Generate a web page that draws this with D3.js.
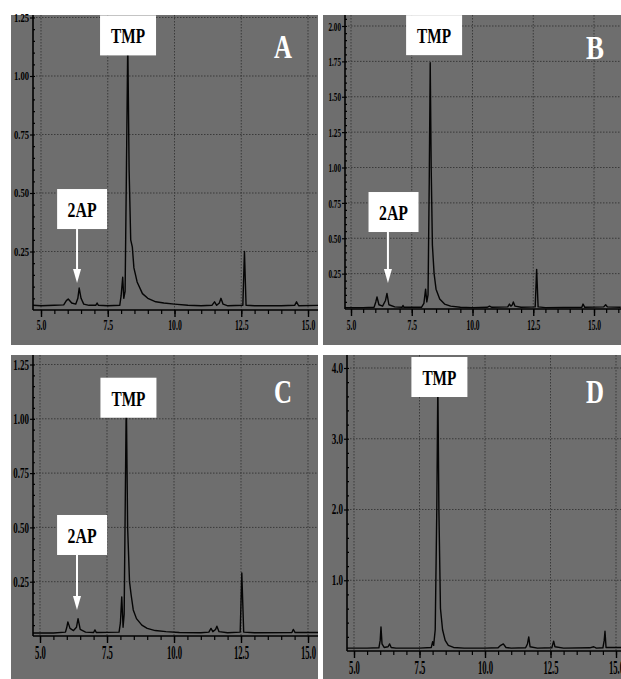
<!DOCTYPE html>
<html>
<head>
<meta charset="utf-8">
<script src="https://cdn.jsdelivr.net/npm/d3@7"></script>
<style>
html, body { margin: 0; padding: 0; background: #fff; }
svg { display: block; }
</style>
</head>
<body>
<svg id="chart" width="621" height="679"></svg>
<script>
// retention time (min) major ticks, shared by all four panels
var xMajor = [5.0, 7.5, 10.0, 12.5, 15.0];

// panel A
var timeA = [4.70, 5.00, 5.50, 5.85, 5.95, 6.02, 6.15, 6.30, 6.38, 6.43, 6.50, 6.60, 6.80, 7.05, 7.10, 7.15, 7.50, 7.95, 8.00, 8.06, 8.10, 8.15, 8.20, 8.25, 8.30, 8.36, 8.42, 8.48, 8.60, 8.80, 9.00, 9.30, 9.60, 10.00, 10.50, 11.00, 11.40, 11.50, 11.58, 11.68, 11.74, 11.82, 12.00, 12.56, 12.62, 12.68, 13.00, 14.00, 14.50, 14.57, 14.65, 15.40];
var signalA = [0.020, 0.018, 0.020, 0.022, 0.040, 0.047, 0.030, 0.025, 0.050, 0.094, 0.050, 0.025, 0.020, 0.020, 0.030, 0.020, 0.018, 0.020, 0.060, 0.140, 0.050, 0.080, 0.600, 1.150, 0.600, 0.300, 0.270, 0.180, 0.120, 0.070, 0.050, 0.035, 0.030, 0.025, 0.020, 0.018, 0.020, 0.035, 0.020, 0.030, 0.050, 0.025, 0.018, 0.020, 0.250, 0.020, 0.018, 0.018, 0.020, 0.035, 0.018, 0.020];
var yTicksA = [0.25, 0.50, 0.75, 1.00, 1.25];

// panel B
var timeB = [4.75, 5.50, 5.95, 6.02, 6.07, 6.15, 6.30, 6.42, 6.48, 6.56, 6.80, 7.10, 7.14, 7.18, 7.90, 8.00, 8.07, 8.12, 8.17, 8.22, 8.26, 8.30, 8.35, 8.42, 8.50, 8.65, 8.85, 9.10, 9.50, 10.00, 10.60, 10.70, 10.80, 11.45, 11.52, 11.58, 11.64, 11.68, 11.75, 12.00, 12.58, 12.64, 12.70, 13.00, 14.50, 14.55, 14.62, 15.40, 15.48, 15.55, 16.10];
var signalB = [0.010, 0.010, 0.012, 0.050, 0.085, 0.030, 0.020, 0.060, 0.110, 0.030, 0.015, 0.012, 0.025, 0.012, 0.012, 0.040, 0.140, 0.050, 0.100, 0.900, 1.740, 1.000, 0.450, 0.250, 0.140, 0.070, 0.035, 0.020, 0.012, 0.010, 0.012, 0.020, 0.012, 0.015, 0.035, 0.020, 0.030, 0.050, 0.020, 0.012, 0.015, 0.280, 0.015, 0.010, 0.012, 0.035, 0.012, 0.015, 0.030, 0.015, 0.012];
var yTicksB = [0.25, 0.50, 0.75, 1.00, 1.25, 1.50, 1.75, 2.00];

// panel C
var timeC = [4.74, 5.50, 5.95, 6.00, 6.04, 6.12, 6.25, 6.36, 6.42, 6.50, 6.70, 7.00, 7.05, 7.10, 7.95, 8.00, 8.05, 8.10, 8.14, 8.18, 8.22, 8.27, 8.34, 8.40, 8.48, 8.60, 8.80, 9.00, 9.30, 9.70, 10.20, 11.00, 11.30, 11.38, 11.45, 11.55, 11.60, 11.68, 12.00, 12.47, 12.53, 12.60, 13.00, 14.40, 14.45, 14.52, 15.40];
var signalC = [0.014, 0.014, 0.018, 0.040, 0.065, 0.035, 0.025, 0.040, 0.080, 0.030, 0.018, 0.016, 0.028, 0.016, 0.018, 0.060, 0.180, 0.040, 0.100, 0.600, 1.100, 0.500, 0.250, 0.190, 0.120, 0.080, 0.050, 0.035, 0.025, 0.020, 0.016, 0.015, 0.018, 0.035, 0.020, 0.030, 0.045, 0.020, 0.015, 0.018, 0.290, 0.018, 0.015, 0.016, 0.030, 0.016, 0.016];
var yTicksC = [0.25, 0.50, 0.75, 1.00, 1.25];

// panel D
var timeD = [4.73, 5.50, 5.95, 6.00, 6.03, 6.07, 6.15, 6.30, 6.36, 6.42, 6.60, 7.50, 7.95, 8.00, 8.04, 8.10, 8.16, 8.20, 8.24, 8.30, 8.38, 8.48, 8.60, 8.80, 9.20, 10.00, 10.50, 10.60, 10.70, 10.80, 11.00, 11.55, 11.62, 11.67, 11.72, 12.00, 12.55, 12.62, 12.67, 13.00, 14.00, 14.15, 14.25, 14.50, 14.55, 14.58, 14.62, 15.30];
var signalD = [0.040, 0.040, 0.045, 0.150, 0.340, 0.100, 0.050, 0.060, 0.100, 0.050, 0.040, 0.040, 0.050, 0.130, 0.080, 0.300, 2.000, 3.800, 2.000, 0.600, 0.300, 0.150, 0.080, 0.050, 0.040, 0.040, 0.045, 0.080, 0.100, 0.050, 0.040, 0.045, 0.100, 0.200, 0.060, 0.040, 0.045, 0.140, 0.060, 0.040, 0.045, 0.060, 0.040, 0.045, 0.150, 0.280, 0.050, 0.050];
var yTicksD = [1.0, 2.0, 3.0, 4.0];

var serif = "'Liberation Serif', 'Times New Roman', serif";

var panels = [
	{letter: "A", time: timeA, signal: signalA, yTicks: yTicksA, yFmt: ".2f", yMinor: 0.05,
	 frame: [11, 15, 318, 345], xRange: [41, 308], yTop: 1.25, yRange: [310, 17.5], axisX: 33,
	 xFs: 14, xSx: 0.55, yFs: 12, ySx: 0.72, letterPos: [283, 58],
	 notes: [{text: "TMP", t: 8.26, v: 1.088, w: 56},
	         {text: "2AP", t: 6.54, v: 0.346, w: 50, arrowT: 6.35, arrowV: 0.115}]},
	{letter: "B", time: timeB, signal: signalB, yTicks: yTicksB, yFmt: ".2f", yMinor: 0.05,
	 frame: [323, 15, 621, 345], xRange: [351, 594], yTop: 2.0, yRange: [309, 26], axisX: 345,
	 xFs: 15, xSx: 0.5, yFs: 13, ySx: 0.55, letterPos: [595, 59],
	 notes: [{text: "TMP", t: 8.42, v: 1.794, w: 56},
	         {text: "2AP", t: 6.75, v: 0.544, w: 50, arrowT: 6.52, arrowV: 0.184}]},
	{letter: "C", time: timeC, signal: signalC, yTicks: yTicksC, yFmt: ".2f", yMinor: 0.05,
	 frame: [11, 355, 318, 679], xRange: [40, 308], yTop: 1.25, yRange: [636, 364.5], axisX: 33,
	 xFs: 18, xSx: 0.48, yFs: 15, ySx: 0.6, letterPos: [283, 403],
	 notes: [{text: "TMP", t: 8.30, v: 1.005, w: 56},
	         {text: "2AP", t: 6.57, v: 0.373, w: 50, arrowT: 6.38, arrowV: 0.12}]},
	{letter: "D", time: timeD, signal: signalD, yTicks: yTicksD, yFmt: ".1f", yMinor: 0.2,
	 frame: [323, 355, 621, 679], xRange: [354, 616], yTop: 4.0, yRange: [651, 368], axisX: 347,
	 xFs: 18, xSx: 0.48, yFs: 14, ySx: 0.65, letterPos: [595, 403],
	 notes: [{text: "TMP", t: 8.26, v: 3.59, w: 56}]}
];

var svg = d3.select("#chart");

panels.forEach(function(p, idx){
	draw_panel(p, idx);
});

function draw_panel(p, idx){
	var f = p.frame;
	var g = svg.append("g");

	g.append("rect")
		.attr("x", f[0]).attr("y", f[1])
		.attr("width", f[2] - f[0]).attr("height", f[3] - f[1])
		.attr("fill", "#6e6e6e");

	var x = d3.scaleLinear().domain([5, 15]).range(p.xRange);
	var y = d3.scaleLinear().domain([0, p.yTop]).range(p.yRange);
	var left = p.axisX;
	var bottom = y(0);

	// dotted grid
	g.append("g").selectAll("line").data(xMajor).join("line")
		.attr("x1", function(d){ return x(d); })
		.attr("x2", function(d){ return x(d); })
		.attr("y1", f[1]).attr("y2", bottom)
		.attr("stroke", "#3a3a3a").attr("stroke-width", 1)
		.attr("stroke-dasharray", "1.5,1.5");
	g.append("g").selectAll("line").data(p.yTicks).join("line")
		.attr("x1", left).attr("x2", f[2])
		.attr("y1", function(d){ return y(d); })
		.attr("y2", function(d){ return y(d); })
		.attr("stroke", "#3a3a3a").attr("stroke-width", 1)
		.attr("stroke-dasharray", "1.5,1.5");

	// trace
	var clipId = "clip" + idx;
	g.append("clipPath").attr("id", clipId)
		.append("rect")
		.attr("x", left).attr("y", f[1])
		.attr("width", f[2] - left).attr("height", bottom - f[1] + 2);

	var line = d3.line()
		.x(function(d, i){ return x(p.time[i]); })
		.y(function(d){ return y(d); });

	g.append("path")
		.datum(p.signal)
		.attr("clip-path", "url(#" + clipId + ")")
		.attr("d", line)
		.attr("fill", "none")
		.attr("stroke", "#050505")
		.attr("stroke-width", 1.4)
		.attr("stroke-linejoin", "round");

	// x axis
	var xMinor = d3.range(4.5, 16.6, 0.5).filter(function(d){
		return x(d) >= left + 1 && x(d) <= f[2] - 1;
	});
	g.append("g")
		.attr("transform", "translate(0," + bottom + ")")
		.call(d3.axisBottom(x).tickValues(xMinor).tickSize(4).tickFormat(""))
		.call(function(s){ s.select(".domain").remove(); })
		.selectAll("line").attr("stroke", "#000").attr("stroke-width", 1.2);

	var xa = g.append("g")
		.attr("transform", "translate(0," + bottom + ")")
		.call(d3.axisBottom(x).tickValues(xMajor).tickSize(7).tickPadding(3).tickFormat(d3.format(".1f")));
	xa.select(".domain").remove();
	xa.selectAll("line").attr("stroke", "#000").attr("stroke-width", 1.4);
	xa.selectAll("text")
		.attr("fill", "#000")
		.style("font-family", serif)
		.style("font-weight", "bold")
		.style("font-size", p.xFs + "px")
		.attr("transform", "scale(" + p.xSx + ",1)");

	g.append("line")
		.attr("x1", left).attr("x2", f[2])
		.attr("y1", bottom).attr("y2", bottom)
		.attr("stroke", "#000").attr("stroke-width", 1.4);

	// y axis
	var yMinor = d3.range(0, p.yTop + 0.5, p.yMinor).filter(function(d){
		return y(d) >= f[1] + 1 && y(d) < bottom - 1;
	});
	g.append("g")
		.attr("transform", "translate(" + left + ",0)")
		.call(d3.axisLeft(y).tickValues(yMinor).tickSize(-2).tickFormat(""))
		.call(function(s){ s.select(".domain").remove(); })
		.selectAll("line").attr("stroke", "#000").attr("stroke-width", 1.2);

	var ya = g.append("g")
		.attr("transform", "translate(" + left + ",0)")
		.call(d3.axisLeft(y).tickValues(p.yTicks).tickSize(3).tickPadding(1).tickFormat(d3.format(p.yFmt)));
	ya.select(".domain").remove();
	ya.selectAll("line").attr("stroke", "#000").attr("stroke-width", 1.2);
	ya.selectAll("text")
		.attr("fill", "#000")
		.attr("x", -4 / p.ySx)
		.style("font-family", serif)
		.style("font-weight", "bold")
		.style("font-size", p.yFs + "px")
		.attr("transform", "scale(" + p.ySx + ",1)");

	g.append("line")
		.attr("x1", left).attr("x2", left)
		.attr("y1", f[1]).attr("y2", bottom)
		.attr("stroke", "#000").attr("stroke-width", 1.6);

	// peak labels
	p.notes.forEach(function(n){
		var bx = x(n.t) - n.w / 2;
		var by = y(n.v) - 40;
		if(n.arrowT !== undefined){
			var ax = x(n.arrowT);
			var tip = y(n.arrowV);
			g.append("line")
				.attr("x1", ax).attr("x2", ax)
				.attr("y1", y(n.v)).attr("y2", tip - 12)
				.attr("stroke", "#fff").attr("stroke-width", 2);
			g.append("path")
				.attr("d", "M" + (ax - 4) + "," + (tip - 14) + "L" + (ax + 4) + "," + (tip - 14) + "L" + ax + "," + tip + "Z")
				.attr("fill", "#fff");
		}
		g.append("rect")
			.attr("x", bx).attr("y", by)
			.attr("width", n.w).attr("height", 40)
			.attr("fill", "#fff");
		g.append("text")
			.attr("x", bx + n.w / 2).attr("y", by + 28)
			.attr("text-anchor", "middle")
			.attr("textLength", n.text === "TMP" ? 34 : 29)
			.attr("lengthAdjust", "spacingAndGlyphs")
			.style("font-family", serif)
			.style("font-weight", "bold")
			.style("font-size", "21px")
			.attr("fill", "#000")
			.text(n.text);
	});

	// panel letter
	g.append("text")
		.attr("x", p.letterPos[0]).attr("y", p.letterPos[1])
		.attr("text-anchor", "middle")
		.attr("textLength", 18)
		.attr("lengthAdjust", "spacingAndGlyphs")
		.style("font-family", serif)
		.style("font-weight", "bold")
		.style("font-size", "34px")
		.attr("fill", "#fff")
		.text(p.letter);
}
</script>
</body>
</html>
